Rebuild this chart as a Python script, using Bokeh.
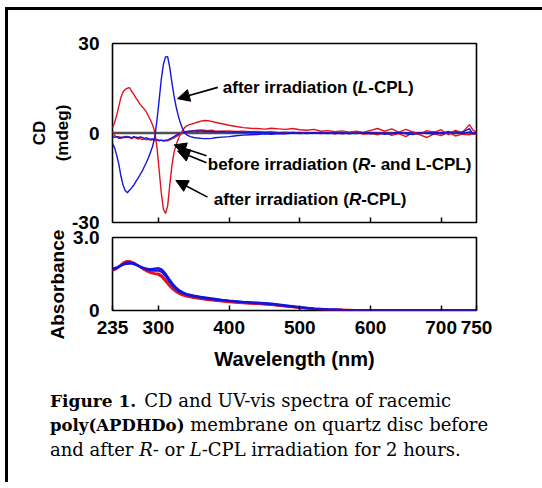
from bokeh.plotting import figure
from bokeh.models import Range1d, FixedTicker, Span, Label, Arrow, NormalHead, Div, Title
from bokeh.layouts import column
from bokeh.embed import file_html
from bokeh.resources import INLINE

# ---------------- data ----------------
wl_cd = [235, 238, 241, 244, 247, 250, 253, 256, 259, 262, 265, 268, 271, 274, 277, 280,
         283, 286, 289, 292, 295, 298, 301, 304, 307, 310, 313, 316, 319, 322, 325, 328,
         331, 334, 337, 340, 345, 350, 355, 360, 365, 370, 375, 380, 390, 400, 410, 420,
         430, 440, 450, 460, 470, 480, 490, 500, 510, 520, 530, 540, 550, 560, 570, 580,
         590, 600, 610, 620, 630, 640, 650, 660, 670, 680, 690, 700, 710, 720, 730, 740,
         745, 750]

cd_after_R = [1.8, 3.5, 6.0, 9.0, 12.0, 13.8, 14.6, 15.0, 15.2, 14.0, 13.0, 11.8, 10.8, 9.6, 8.8, 8.0,
              7.0, 5.6, 4.2, 2.5, 0.2, -5.0, -12.5, -20.0, -25.5, -27.0, -24.5, -17.5, -11.0, -6.5, -4.0, -2.0,
              -0.5, 0.8, 1.8, 2.4, 2.9, 3.2, 3.6, 4.0, 4.2, 4.1, 3.9, 3.6, 3.1, 2.6, 2.2, 1.8,
              1.6, 1.5, 1.3, 1.6, 1.4, 1.2, 1.5, 1.1, 0.9, 1.2, 0.6, 0.8, 0.4, 0.7, 0.3, 0.6,
              0.2, 0.9, 1.5, 0.6, 1.4, 0.3, 1.2, 0.4, -0.3, 0.8, 0.2, 1.1, -0.6, 0.9, 0.2, 2.8,
              1.0, 0.4]

cd_before_red = [0.5, -0.8, -1.4, -1.2, -1.8, -1.3, -1.6, -1.1, -1.5, -1.9, -1.4, -1.7, -2.0, -1.8, -2.2, -2.0,
                 -2.3, -2.1, -2.4, -2.2, -2.5, -2.3, -2.6, -2.4, -2.7, -2.5, -2.6, -2.3, -2.0, -1.6, -1.2, -0.8,
                 -0.4, -0.1, 0.2, 0.4, 0.6, 0.8, 0.9, 1.0, 0.9, 0.8, 0.9, 0.7, 0.6, 0.7, 0.5, 0.6,
                 0.4, 0.5, 0.3, 0.4, 0.1, 0.3, 0.0, 0.2, -0.1, 0.1, -0.2, 0.0, -0.3, 0.1, -0.2, 0.2,
                 -0.4, -0.1, -0.6, 0.3, -0.8, -0.2, -1.2, 0.1, -0.6, -1.5, -0.3, -0.9, 0.2, -1.0, -0.4, -0.6,
                 -0.2, -0.5]

cd_after_L = [-3.5, -5.0, -7.5, -10.5, -14.5, -17.5, -19.3, -20.0, -19.2, -18.4, -17.5, -16.3, -15.2, -14.0, -12.8, -11.3,
              -9.8, -8.2, -6.3, -4.3, -1.0, 4.5, 11.0, 18.0, 23.0, 25.5, 25.6, 22.0, 17.0, 12.5, 8.8, 5.8,
              3.4, 1.5, 0.2, -0.6, -1.2, -1.5, -1.7, -1.8, -1.9, -1.9, -1.8, -1.6, -1.4, -1.2, -0.9, -0.7,
              -0.6, -0.5, -0.3, -0.4, -0.2, -0.3, 0.0, -0.2, 0.1, -0.1, 0.0, -0.2, 0.1, -0.3, 0.0, -0.2,
              0.1, -0.3, 0.0, -0.4, -0.1, 0.2, -0.3, -0.5, 0.1, -0.2, 0.4, -0.3, 0.5, -0.2, 0.3, 1.5,
              -0.4, 0.2]

cd_before_blue = [-1.0, -1.5, -1.2, -1.8, -1.4, -1.6, -1.1, -1.5, -1.3, -1.7, -1.2, -1.4, -1.6, -1.3, -1.5, -1.8,
                  -1.6, -1.9, -2.1, -2.0, -2.3, -2.2, -2.5, -2.4, -2.6, -2.4, -2.3, -2.0, -1.6, -1.2, -0.8, -0.4,
                  -0.1, 0.2, 0.4, 0.5, 0.6, 0.7, 0.6, 0.7, 0.5, 0.6, 0.5, 0.4, 0.5, 0.3, 0.4, 0.2,
                  0.3, 0.1, 0.2, 0.0, 0.1, -0.1, 0.2, 0.0, -0.2, 0.1, -0.1, 0.0, -0.2, 0.1, -0.3, 0.0,
                  -0.1, 0.2, -0.2, 0.0, -0.3, 0.1, -0.1, 0.3, -0.2, 0.0, -0.4, 0.2, -0.1, 0.6, -0.2, 0.4,
                  -0.1, 0.1]

wl_abs = [235, 240, 245, 250, 255, 260, 265, 270, 275, 280, 285, 290, 295, 300, 305, 310,
          315, 320, 325, 330, 335, 340, 350, 360, 370, 380, 390, 400, 420, 440, 460, 480,
          500, 520, 540, 560, 580, 600, 650, 700, 750]

abs_after_R = [1.64, 1.70, 1.82, 1.95, 2.03, 2.02, 1.96, 1.87, 1.77, 1.67, 1.59, 1.53, 1.50, 1.47, 1.37, 1.20,
               1.02, 0.88, 0.76, 0.68, 0.62, 0.58, 0.52, 0.48, 0.44, 0.40, 0.37, 0.34, 0.30, 0.27, 0.23, 0.17,
               0.11, 0.07, 0.04, 0.03, 0.02, 0.02, 0.02, 0.02, 0.02]
abs_before_red = [1.66, 1.72, 1.84, 1.96, 2.02, 2.00, 1.95, 1.86, 1.76, 1.67, 1.60, 1.55, 1.53, 1.52, 1.43, 1.26,
                  1.07, 0.92, 0.79, 0.70, 0.64, 0.60, 0.54, 0.50, 0.46, 0.42, 0.39, 0.36, 0.31, 0.28, 0.24, 0.18,
                  0.12, 0.07, 0.04, 0.03, 0.02, 0.02, 0.02, 0.02, 0.02]
abs_after_L = [1.72, 1.76, 1.82, 1.88, 1.92, 1.93, 1.90, 1.85, 1.79, 1.74, 1.71, 1.70, 1.72, 1.74, 1.68, 1.52,
               1.30, 1.10, 0.94, 0.82, 0.74, 0.68, 0.61, 0.56, 0.52, 0.48, 0.44, 0.41, 0.36, 0.32, 0.28, 0.21,
               0.14, 0.08, 0.05, 0.03, 0.02, 0.02, 0.02, 0.02, 0.02]
abs_before_blue = [1.68, 1.73, 1.80, 1.90, 1.96, 1.97, 1.94, 1.87, 1.80, 1.73, 1.67, 1.64, 1.64, 1.65, 1.58, 1.42,
                   1.21, 1.03, 0.88, 0.77, 0.70, 0.65, 0.58, 0.53, 0.49, 0.45, 0.42, 0.39, 0.34, 0.30, 0.26, 0.19,
                   0.13, 0.08, 0.05, 0.03, 0.02, 0.02, 0.02, 0.02, 0.02]

x_ticks = [235, 300, 400, 500, 600, 700, 750]
cd_ticks = [-30, 0, 30]
cd_tick_labels = {-30: "-30", 0: "0", 30: "30"}
abs_ticks = [0, 3]
abs_tick_labels = {0: "0", 3: "3.0"}

RED = "#e0141e"
BLUE = "#1414dc"
SANS = "Liberation Sans"

# ---------------- figures ----------------
p1 = figure(width=530, height=226, x_range=Range1d(235, 750), y_range=Range1d(-30, 30),
            output_backend="svg", toolbar_location=None,
            min_border_left=104, min_border_right=62, min_border_top=33, min_border_bottom=14)
p2 = figure(width=530, height=168, x_range=p1.x_range, y_range=Range1d(0, 3),
            output_backend="svg", toolbar_location=None, margin=(-32, 0, 0, 0),
            min_border_left=104, min_border_right=62, min_border_top=33, min_border_bottom=62)

for p in (p1, p2):
    p.grid.visible = False
    p.outline_line_color = "black"
    p.outline_line_width = 1.6
    p.background_fill_color = "white"
    for ax in (p.xaxis[0], p.yaxis[0]):
        ax.axis_line_color = None
        ax.minor_tick_line_color = None
        ax.major_label_text_font = SANS
        ax.major_label_text_font_style = "bold"
        ax.major_label_text_font_size = "19px"
        ax.major_label_text_color = "black"
        ax.axis_label_text_font = SANS
        ax.axis_label_text_font_style = "bold"
        ax.axis_label_text_color = "black"
    p.yaxis.major_tick_line_color = None
    p.xaxis.major_tick_in = 5
    p.xaxis.major_tick_out = 0
    p.xaxis.major_tick_line_color = "black"
    p.xaxis.major_tick_line_width = 1.5

p1.border_fill_color = "white"
p2.border_fill_color = None

# ---------------- CD panel ----------------
p1.xaxis.ticker = FixedTicker(ticks=[300, 400, 500, 600, 700])
p1.xaxis.major_label_overrides = {t: "" for t in [300, 400, 500, 600, 700]}
p1.xaxis.major_label_text_font_size = "0px"
p1.xaxis.major_label_standoff = 0
p1.yaxis.ticker = FixedTicker(ticks=cd_ticks)
p1.yaxis.major_label_overrides = cd_tick_labels
p1.yaxis.major_label_standoff = 7
p1.yaxis.axis_label = "CD\n(mdeg)"
p1.yaxis.axis_label_text_font_size = "17px"
p1.yaxis.axis_label_standoff = -3

p1.add_layout(Span(location=0, dimension="width", line_color="#505050", line_width=2.5, level="underlay"))

p1.line(wl_cd, cd_before_red, line_color=RED, line_width=1.4)
p1.line(wl_cd, cd_before_blue, line_color=BLUE, line_width=1.4)
p1.line(wl_cd, cd_after_R, line_color=RED, line_width=1.4)
p1.line(wl_cd, cd_after_L, line_color=BLUE, line_width=1.4)

FS = "17px"
def add_text(p, x, y, parts):
    off = 0.0
    for txt, style, w in parts:
        p.add_layout(Label(x=x, y=y, x_offset=off, text=txt, text_font=SANS, text_font_size=FS,
                           text_font_style=style, text_color="black", text_baseline="middle",
                           text_align="left"))
        off += w

add_text(p1, 391, 15.3, [("after irradiation (", "bold", 135.1), ("L", "bold italic", 10.4), ("-CPL)", "bold", 0)])
add_text(p1, 369.8, -10.4, [("before irradiation (", "bold", 150.2), ("R", "bold italic", 12.3), ("- and L-CPL)", "bold", 0)])
add_text(p1, 378.3, -22.3, [("after irradiation (", "bold", 135.1), ("R", "bold italic", 12.3), ("-CPL)", "bold", 0)])

def arrow(p, x0, y0, x1, y1):
    p.add_layout(Arrow(end=NormalHead(size=12, fill_color="black", line_color="black"),
                       x_start=x0, y_start=y0, x_end=x1, y_end=y1,
                       line_color="black", line_width=1.6))

arrow(p1, 384, 15.3, 327, 11.5)
arrow(p1, 368, -7.6, 322, -4.0)
arrow(p1, 368, -10.0, 327, -6.0)
arrow(p1, 369.4, -21.5, 324.6, -15.9)

# ---------------- Absorbance panel ----------------
p2.xaxis.ticker = FixedTicker(ticks=x_ticks)
p2.xaxis.major_label_standoff = 10
p2.xaxis.axis_label = "Wavelength (nm)"
p2.xaxis.axis_label_text_font_size = "20px"
p2.xaxis.axis_label_standoff = 11
p2.yaxis.ticker = FixedTicker(ticks=abs_ticks)
p2.yaxis.major_label_overrides = abs_tick_labels
p2.yaxis.major_label_standoff = 7

# trailing no-break spaces shift the (centred) label down, as in the reference
p2.add_layout(Title(text="Absorbance\u00a0\u00a0\u00a0\u00a0", align="center", standoff=6,
                    text_font=SANS, text_font_size="19px", text_font_style="bold",
                    text_color="black"), "left")

p2.line(wl_abs, abs_before_red, line_color=RED, line_width=2.2)
p2.line(wl_abs, abs_after_R, line_color=RED, line_width=2.2)
p2.line(wl_abs, abs_before_blue, line_color=BLUE, line_width=2.2)
p2.line(wl_abs, abs_after_L, line_color=BLUE, line_width=2.2)

caption = Div(width=530, height=100, text=(
    "<div style=\"margin-left:37px; margin-top:12px; font-family:'DejaVu Serif'; font-size:18px; "
    "line-height:24px; color:black; white-space:nowrap;\">"
    "<b style='font-size:17px'>Figure 1.</b><span style='margin-left:8px'>CD and UV-vis spectra of racemic</span><br>"
    "<b style='font-size:16.5px'>poly(APDHDo)</b> membrane on quartz disc before<br>"
    "and after <i>R</i>- or <i>L</i>-CPL irradiation for 2 hours.</div>"))

layout = column(p1, p2, caption, styles={"border-top": "3px solid black", "border-left": "3px solid black",
                                         "margin-top": "7px", "margin-left": "5px"})

open("out.html", "w").write(file_html(layout, INLINE))
